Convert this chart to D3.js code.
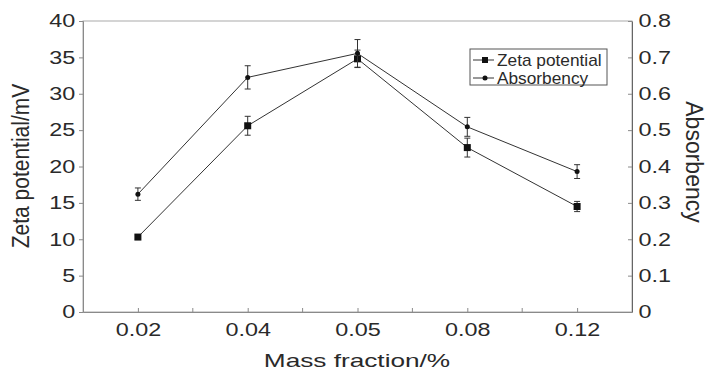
<!DOCTYPE html>
<html><head><meta charset="utf-8">
<script src="https://cdn.jsdelivr.net/npm/d3@7"></script>
<style>body{margin:0;background:#fff}svg{display:block}text{font-family:"Liberation Sans",Arial,sans-serif;fill:#2a2a2a}</style>
</head><body>
<svg id="c" width="706" height="373"></svg>
<script>
const categories = ["0.02","0.04","0.05","0.08","0.12"];
const zeta = [10.3, 25.6, 34.8, 22.6, 14.5];
const zetaErr = [0.3, 1.3, 1.2, 1.3, 0.7];
const absorb = [0.324, 0.645, 0.711, 0.509, 0.386];
const absorbErr = [0.017, 0.032, 0.038, 0.026, 0.019];
const leftTicks = [0,5,10,15,20,25,30,35,40];
const rightTicks = [0,0.1,0.2,0.3,0.4,0.5,0.6,0.7,0.8];
const seriesNames = ["Zeta potential","Absorbency"];

const svg = d3.select("#c");
const L=83, R=632, T=21, B=312;
const x = d3.scalePoint().domain(categories).range([L,R]).padding(0.5);
const yL = d3.scaleLinear().domain([0,40]).range([B,T]);
const yR = d3.scaleLinear().domain([0,0.8]).range([B,T]);
const axisCol = "#8a8a8a";
const SX = 1.3;

// frame
svg.append("rect").attr("x",L).attr("y",T).attr("width",R-L).attr("height",B-T)
  .attr("fill","none").attr("stroke","#aaa").attr("stroke-width",1);

// left axis
const gl = svg.append("g").attr("transform",`translate(${L},0)`)
  .call(d3.axisLeft(yL).tickValues(leftTicks).tickSize(4).tickPadding(2).tickFormat(d3.format("d")));
gl.selectAll("path,line").attr("stroke",axisCol);
gl.selectAll("text").attr("font-size",18).style("fill","#2a2a2a").attr("transform",`scale(${SX},1)`);

// right axis
const gr = svg.append("g").attr("transform",`translate(${R},0)`)
  .call(d3.axisRight(yR).tickValues(rightTicks).tickSizeInner(-4).tickSizeOuter(0).tickPadding(5).tickFormat(d=>d===0?"0":d3.format(".1f")(d)));
gr.selectAll("path,line").attr("stroke",axisCol);
gr.select("path").attr("stroke","#666");
gr.selectAll("text").attr("font-size",18).style("fill","#2a2a2a").attr("transform",`scale(${SX},1)`);

// bottom axis
const gb = svg.append("g").attr("transform",`translate(0,${B})`)
  .call(d3.axisBottom(x).tickSizeInner(-4).tickSizeOuter(0).tickPadding(11));
gb.selectAll("path,line").attr("stroke",axisCol);
gb.selectAll("text").attr("font-size",18).style("fill","#2a2a2a").attr("transform",`scale(${SX},1)`);
// minor ticks between categories
const mids = d3.pairs(categories).map(([a,b])=>(x(a)+x(b))/2);
svg.append("g").selectAll("line").data(mids).join("line")
  .attr("x1",d=>d).attr("x2",d=>d).attr("y1",B).attr("y2",B-4).attr("stroke",axisCol);

// titles
svg.append("text").attr("transform","translate(29,166) rotate(-90) scale(1,1.15)").attr("text-anchor","middle")
  .attr("font-size",21).text("Zeta potential/mV");
svg.append("text").attr("transform","translate(686,162) rotate(90)").attr("text-anchor","middle")
  .attr("font-size",23).text("Absorbency");
svg.append("text").attr("transform","translate(357,367) scale(1.38,1)").attr("text-anchor","middle")
  .attr("font-size",19).text("Mass fraction/%");

function drawSeries(vals, errs, y, marker){
  const g = svg.append("g");
  const pts = categories.map((c,i)=>({c, v:vals[i], e:errs[i]}));
  g.append("path").datum(pts).attr("fill","none").attr("stroke","#333").attr("stroke-width",1)
    .attr("d", d3.line().x(d=>x(d.c)).y(d=>y(d.v)));
  const eb = g.selectAll("g.eb").data(pts).join("g");
  eb.append("line").attr("x1",d=>x(d.c)).attr("x2",d=>x(d.c)).attr("y1",d=>y(d.v-d.e)).attr("y2",d=>y(d.v+d.e)).attr("stroke","#333");
  eb.append("line").attr("x1",d=>x(d.c)-3).attr("x2",d=>x(d.c)+3).attr("y1",d=>y(d.v-d.e)).attr("y2",d=>y(d.v-d.e)).attr("stroke","#333");
  eb.append("line").attr("x1",d=>x(d.c)-3).attr("x2",d=>x(d.c)+3).attr("y1",d=>y(d.v+d.e)).attr("y2",d=>y(d.v+d.e)).attr("stroke","#333");
  if(marker==="square"){
    g.selectAll("rect.m").data(pts).join("rect").attr("x",d=>x(d.c)-3.5).attr("y",d=>y(d.v)-3.5)
      .attr("width",7).attr("height",7).attr("fill","#111");
  } else {
    g.selectAll("circle.m").data(pts).join("circle").attr("cx",d=>x(d.c)).attr("cy",d=>y(d.v)).attr("r",2.5).attr("fill","#111");
  }
}
drawSeries(zeta, zetaErr, yL, "square");
drawSeries(absorb, absorbErr, yR, "circle");

// legend
const lg = svg.append("g");
lg.append("rect").attr("x",470).attr("y",49).attr("width",137).attr("height",36).attr("fill","#fff").attr("stroke","#555");
seriesNames.forEach((n,i)=>{
  const yy = 60 + i*18;
  lg.append("line").attr("x1",473).attr("x2",494).attr("y1",yy).attr("y2",yy).attr("stroke","#333");
  if(i===0) lg.append("rect").attr("x",482).attr("y",yy-3).attr("width",6).attr("height",6).attr("fill","#111");
  else lg.append("circle").attr("cx",485).attr("cy",yy).attr("r",2.5).attr("fill","#111");
  lg.append("text").attr("transform",`translate(497,${yy+5.5}) scale(1.08,1)`).attr("font-size",16).text(n);
});
</script>
</body></html>
